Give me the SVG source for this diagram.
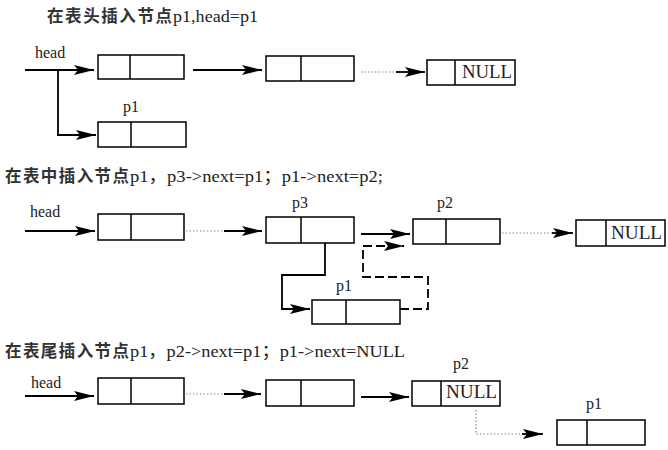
<svg xmlns="http://www.w3.org/2000/svg" width="668" height="450" viewBox="0 0 668 450">
<defs>
<marker id="ah" markerUnits="userSpaceOnUse" markerWidth="22" markerHeight="12" refX="20" refY="5" orient="auto">
<path d="M0,0 L20,5 L0,10 L4,5 z" fill="#000"/>
</marker>
<style>
.box{fill:#fff;stroke:#000;stroke-width:1.5}
.div{stroke:#000;stroke-width:1.5}
.ln{fill:none;stroke:#000;stroke-width:1.8}
.dash{fill:none;stroke:#000;stroke-width:1.8;stroke-dasharray:9,4}
.dot{fill:none;stroke:#888;stroke-width:1.2;stroke-dasharray:1.5,2}
.t{font-family:"Liberation Serif","Noto Sans CJK SC",serif;fill:#222}
.zh{font-family:"Noto Sans CJK SC","Liberation Serif",sans-serif;font-size:16.5px;fill:#333;font-weight:bold}
.la{font-family:"Liberation Serif","Noto Sans CJK SC",serif;font-size:17px;fill:#222}
.lab{font-size:16px}
.null{font-size:19px}
</style>
</defs>
<rect width="668" height="450" fill="#fff"/>

<g id="titles">
<text class="zh" x="47" y="22" textLength="125" lengthAdjust="spacing">在表头插入节点</text>
<text class="la" x="173" y="22" textLength="85" lengthAdjust="spacingAndGlyphs">p1,head=p1</text>
<text class="zh" x="5" y="182" textLength="124" lengthAdjust="spacing">在表中插入节点</text>
<text class="la" x="130" y="182" textLength="253" lengthAdjust="spacingAndGlyphs">p1，p3-&gt;next=p1；p1-&gt;next=p2;</text>
<text class="zh" x="5" y="357" textLength="124" lengthAdjust="spacing">在表尾插入节点</text>
<text class="la" x="130" y="357" textLength="275" lengthAdjust="spacingAndGlyphs">p1，p2-&gt;next=p1；p1-&gt;next=NULL</text>
</g>

<g id="labels">
<text class="t lab" x="35" y="58">head</text>
<text class="t lab" x="30" y="217">head</text>
<text class="t lab" x="31" y="388">head</text>
</g>

<g id="s1-n1"><rect class="box" x="98" y="55" width="86" height="24"/><line class="div" x1="130" y1="55" x2="130" y2="79"/></g>
<g id="s1-n2"><rect class="box" x="266" y="56" width="88" height="25"/><line class="div" x1="301" y1="56" x2="301" y2="81"/></g>
<g id="s1-null"><rect class="box" x="427" y="60" width="88" height="25"/><line class="div" x1="455" y1="60" x2="455" y2="85"/><text class="t null" x="462" y="78" textLength="50" lengthAdjust="spacingAndGlyphs">NULL</text></g>
<g id="s1-p1"><rect class="box" x="98" y="122" width="88" height="25"/><line class="div" x1="131" y1="122" x2="131" y2="147"/><text class="t lab" x="123" y="112">p1</text></g>

<g id="s2-n1"><rect class="box" x="98" y="214" width="86" height="26"/><line class="div" x1="131" y1="214" x2="131" y2="240"/></g>
<g id="s2-p3"><rect class="box" x="266" y="217" width="88" height="26"/><line class="div" x1="301" y1="217" x2="301" y2="243"/><text class="t lab" x="292" y="208">p3</text></g>
<g id="s2-p1"><rect class="box" x="312" y="300" width="88" height="24"/><line class="div" x1="346" y1="300" x2="346" y2="324"/><text class="t lab" x="336" y="291">p1</text></g>
<g id="s2-p2"><rect class="box" x="413" y="219" width="87" height="25"/><line class="div" x1="446" y1="219" x2="446" y2="244"/><text class="t lab" x="437" y="208">p2</text></g>
<g id="s2-null"><rect class="box" x="576" y="220" width="89" height="26"/><line class="div" x1="606" y1="220" x2="606" y2="246"/><text class="t null" x="611" y="239" textLength="51" lengthAdjust="spacingAndGlyphs">NULL</text></g>

<g id="s3-n1"><rect class="box" x="98" y="378" width="86" height="26"/><line class="div" x1="131" y1="378" x2="131" y2="404"/></g>
<g id="s3-n2"><rect class="box" x="266" y="380" width="88" height="26"/><line class="div" x1="301" y1="380" x2="301" y2="406"/></g>
<g id="s3-p2"><rect class="box" x="412" y="381" width="88" height="25"/><line class="div" x1="441" y1="381" x2="441" y2="406"/><text class="t null" x="446" y="398" textLength="51" lengthAdjust="spacingAndGlyphs">NULL</text><text class="t lab" x="453" y="369">p2</text></g>
<g id="s3-p1"><rect class="box" x="557" y="420" width="88" height="25"/><line class="div" x1="587" y1="420" x2="587" y2="445"/><text class="t lab" x="586" y="409">p1</text></g>

<g id="connectors">
<path class="ln" d="M25,70 L94,70" marker-end="url(#ah)"/>
<path class="ln" d="M193,70 L262,70" marker-end="url(#ah)"/>
<path class="dot" d="M361,72 L398,72"/>
<path class="ln" d="M396,72 L425,72" marker-end="url(#ah)"/>
<path class="ln" d="M58,70 L58,135 L96,135" marker-end="url(#ah)"/>

<path class="ln" d="M25,231 L95,231" marker-end="url(#ah)"/>
<path class="dot" d="M186,231 L225,231"/>
<path class="ln" d="M224,231 L262,231" marker-end="url(#ah)"/>
<path class="ln" d="M361,234 L410,234" marker-end="url(#ah)"/>
<path class="ln" d="M325,243 L325,275 L282,275 L282,309 L310,309" marker-end="url(#ah)"/>
<path class="dash" d="M400,309 L428,309 L428,277 L363,277 L363,246 L404,246" marker-end="url(#ah)"/>
<path class="dot" d="M502,233 L553,233"/>
<path class="ln" d="M552,233 L573,233" marker-end="url(#ah)"/>

<path class="ln" d="M25,396 L94,396" marker-end="url(#ah)"/>
<path class="dot" d="M186,394 L225,394"/>
<path class="ln" d="M224,394 L261,394" marker-end="url(#ah)"/>
<path class="ln" d="M361,397 L409,397" marker-end="url(#ah)"/>
<path class="dot" d="M476,410 L476,434 L525,434"/>
<path class="ln" d="M522,434 L543,434" marker-end="url(#ah)"/>
</g>
</svg>
